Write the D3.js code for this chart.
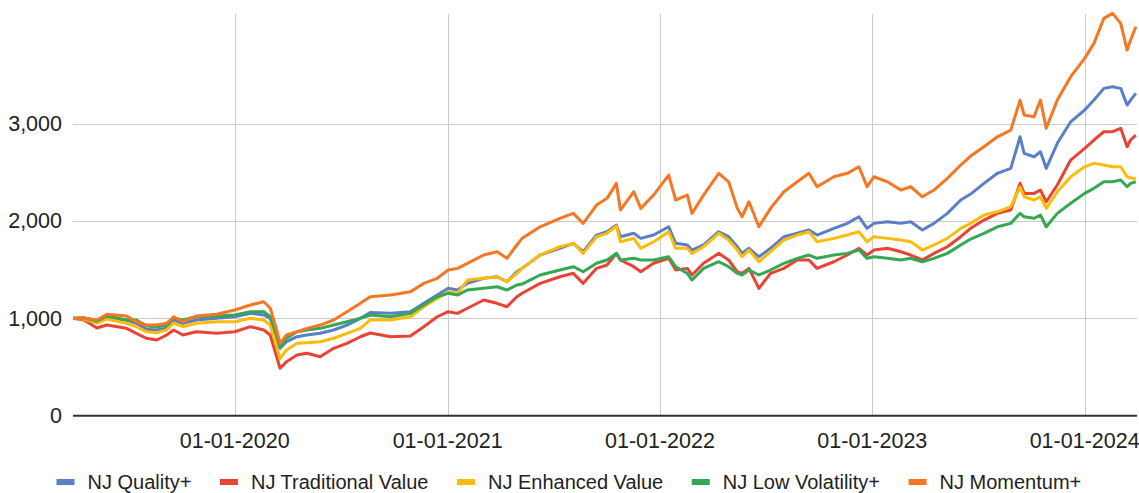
<!DOCTYPE html>
<html>
<head>
<meta charset="utf-8">
<script src="https://cdn.jsdelivr.net/npm/d3@7"></script>
<style>
  body { margin: 0; background: #fff; }
  svg { display: block; font-family: 'Liberation Sans', Arial, sans-serif; }
</style>
</head>
<body>
<svg id="chart" width="1139" height="493"></svg>
<script>
/* global d3 */

// dates of the read-off points (values re-based to 1000)
var dates = [
  '2019-03-29', '2019-04-17', '2019-05-09', '2019-05-26', '2019-06-29', '2019-07-16', '2019-08-02', '2019-08-20',
  '2019-09-06', '2019-09-18', '2019-10-04', '2019-10-27', '2019-12-01', '2020-01-01', '2020-01-28', '2020-02-20',
  '2020-03-02', '2020-03-13', '2020-03-19', '2020-03-30', '2020-04-17', '2020-05-04', '2020-05-27', '2020-06-19',
  '2020-07-12', '2020-08-04', '2020-08-21', '2020-09-25', '2020-10-29', '2020-11-21', '2020-12-14', '2021-01-02',
  '2021-01-18', '2021-02-04', '2021-03-04', '2021-03-27', '2021-04-13', '2021-04-30', '2021-05-09', '2021-06-09',
  '2021-07-13', '2021-08-05', '2021-08-22', '2021-09-14', '2021-10-02', '2021-10-18', '2021-10-25', '2021-11-17',
  '2021-11-29', '2021-12-21', '2022-01-16', '2022-01-28', '2022-02-17', '2022-02-25', '2022-03-17', '2022-04-12',
  '2022-04-29', '2022-05-14', '2022-05-22', '2022-06-03', '2022-06-20', '2022-07-10', '2022-08-02', '2022-08-25',
  '2022-09-14', '2022-09-28', '2022-10-27', '2022-11-19', '2022-12-09', '2022-12-23', '2023-01-04', '2023-01-27',
  '2023-02-19', '2023-03-08', '2023-03-28', '2023-04-17', '2023-05-10', '2023-06-02', '2023-06-19', '2023-07-12',
  '2023-08-04', '2023-08-27', '2023-09-12', '2023-09-19', '2023-10-06', '2023-10-17', '2023-10-27', '2023-11-15',
  '2023-12-08', '2024-01-01', '2024-01-17', '2024-02-03', '2024-02-18', '2024-03-03', '2024-03-14', '2024-03-20',
  '2024-03-29'
]

var quality = [
  1000, 1003, 962, 1003, 983, 949, 887, 880, 897, 983, 949, 983, 1000, 1016, 1051, 1034,
  1000, 811, 692, 760, 811, 829, 846, 880, 931, 1000, 1060, 1051, 1068, 1154, 1239, 1308,
  1291, 1359, 1411, 1427, 1376, 1478, 1513, 1650, 1719, 1770, 1684, 1855, 1889, 1958, 1838, 1873,
  1821, 1855, 1940, 1770, 1753, 1701, 1753, 1889, 1838, 1735, 1667, 1719, 1632, 1719, 1838, 1873,
  1907, 1855, 1924, 1975, 2043, 1924, 1975, 1992, 1975, 1992, 1907, 1975, 2078, 2215, 2276, 2386,
  2489, 2540, 2864, 2694, 2659, 2710, 2540, 2797, 3018, 3139, 3241, 3361, 3378, 3361, 3190, 3241,
  3310
]

var tradValue = [
  1000, 983, 900, 931, 897, 846, 795, 777, 829, 880, 829, 862, 846, 862, 914, 880,
  829, 606, 487, 554, 623, 641, 606, 692, 743, 811, 849, 811, 818, 914, 1016, 1068,
  1051, 1103, 1188, 1154, 1119, 1222, 1257, 1359, 1427, 1462, 1359, 1513, 1547, 1667, 1599, 1530,
  1478, 1565, 1616, 1496, 1513, 1445, 1565, 1667, 1599, 1478, 1462, 1513, 1308, 1462, 1513, 1599,
  1599, 1513, 1581, 1650, 1719, 1650, 1701, 1719, 1684, 1650, 1599, 1667, 1735, 1838, 1924, 2009,
  2078, 2112, 2386, 2283, 2283, 2317, 2197, 2369, 2625, 2745, 2831, 2916, 2916, 2951, 2762, 2831,
  2882
]

var enhValue = [
  1000, 993, 952, 993, 949, 914, 862, 852, 880, 952, 914, 949, 965, 965, 1000, 983,
  931, 708, 589, 675, 743, 749, 760, 795, 846, 897, 983, 983, 1016, 1119, 1205, 1273,
  1257, 1393, 1411, 1427, 1376, 1462, 1513, 1650, 1735, 1770, 1667, 1838, 1873, 1948, 1786, 1821,
  1719, 1786, 1889, 1719, 1719, 1667, 1735, 1873, 1804, 1701, 1632, 1701, 1581, 1684, 1804, 1855,
  1889, 1786, 1821, 1855, 1889, 1786, 1838, 1821, 1804, 1786, 1701, 1753, 1821, 1924, 1975, 2061,
  2094, 2146, 2351, 2248, 2215, 2248, 2129, 2300, 2454, 2556, 2591, 2574, 2556, 2556, 2454, 2440,
  2437
]

var lowVol = [
  1000, 1003, 972, 1024, 983, 983, 921, 911, 931, 1003, 983, 1016, 1024, 1034, 1068, 1068,
  1016, 829, 708, 795, 862, 880, 897, 931, 965, 1000, 1034, 1016, 1051, 1137, 1222, 1257,
  1239, 1291, 1308, 1324, 1291, 1342, 1352, 1445, 1496, 1530, 1478, 1565, 1599, 1667, 1599, 1616,
  1599, 1599, 1632, 1530, 1462, 1393, 1513, 1581, 1530, 1462, 1445, 1496, 1445, 1496, 1565, 1616,
  1650, 1616, 1650, 1667, 1701, 1616, 1632, 1616, 1599, 1616, 1581, 1616, 1667, 1753, 1814, 1873,
  1940, 1975, 2078, 2043, 2027, 2061, 1940, 2078, 2181, 2283, 2335, 2402, 2402, 2420, 2351, 2386,
  2402
]

var momentum = [
  1000, 1003, 983, 1041, 1024, 965, 931, 931, 949, 1016, 965, 1024, 1041, 1085, 1137, 1170,
  1106, 880, 743, 829, 862, 897, 931, 983, 1068, 1154, 1222, 1239, 1273, 1359, 1411, 1496,
  1513, 1565, 1650, 1684, 1616, 1753, 1821, 1940, 2027, 2078, 1975, 2163, 2232, 2386, 2112, 2300,
  2129, 2266, 2471, 2215, 2266, 2078, 2266, 2489, 2402, 2129, 2043, 2197, 1940, 2129, 2300, 2402,
  2489, 2351, 2454, 2489, 2556, 2351, 2454, 2402, 2317, 2351, 2248, 2317, 2437, 2574, 2666, 2762,
  2864, 2933, 3241, 3087, 3070, 3241, 2951, 3241, 3481, 3669, 3823, 4080, 4131, 4029, 3755, 3857,
  3994
]

var seriesNames = ['NJ Quality+', 'NJ Traditional Value', 'NJ Enhanced Value', 'NJ Low Volatility+', 'NJ Momentum+']
var seriesValues = [quality, tradValue, enhValue, lowVol, momentum]
var colors = ['#5a7fc7', '#e94335', '#fbbc09', '#34a853', '#f57723']
var yTicks = [0, 1000, 2000, 3000]
var xTicks = ['2020-01-01', '2021-01-01', '2022-01-01', '2023-01-01', '2024-01-01']

;(function () {
  var svg = d3.select('#chart')
  var parse = d3.timeParse('%Y-%m-%d')
  var left = 73
  var right = 1137
  var top = 14
  var bottom = 415.7

  var mapX = d3.scaleTime()
      .domain([parse('2019-03-29'), parse('2024-03-31')])
      .range([left, right])

  var mapY = d3.scaleLinear()
      .domain([0, 4125])
      .range([bottom, top])

  var series = seriesNames.map((name, i) => ({
    name: name,
    color: colors[i],
    points: dates.map((d, j) => ({date: parse(d), value: seriesValues[i][j]}))
  }))

  /*
      --------------------------------------
      Grid
  */
  var grid = svg.append('g').attr('class', 'grid')

  grid.selectAll('line.h')
      .data(yTicks.filter(d => d > 0))
      .enter().append('line')
      .attr('class', 'h')
      .attr('x1', left).attr('x2', right)
      .attr('y1', d => Math.round(mapY(d)) + 0.5)
      .attr('y2', d => Math.round(mapY(d)) + 0.5)
      .style('stroke', '#cccccc')

  grid.selectAll('line.v')
      .data(xTicks.map(parse))
      .enter().append('line')
      .attr('class', 'v')
      .attr('x1', d => Math.round(mapX(d)) + 0.5)
      .attr('x2', d => Math.round(mapX(d)) + 0.5)
      .attr('y1', top).attr('y2', bottom)
      .style('stroke', '#cccccc')

  // y labels
  svg.append('g').selectAll('text')
      .data(yTicks)
      .enter().append('text')
      .attr('x', 62)
      .attr('y', d => mapY(d))
      .attr('dy', '0.35em')
      .attr('text-anchor', 'end')
      .style('font-size', '21.5px')
      .style('fill', '#222')
      .text(d3.format(','))

  // x labels
  svg.append('g').selectAll('text')
      .data(xTicks.map(parse))
      .enter().append('text')
      .attr('x', d => mapX(d))
      .attr('y', 440)
      .attr('dy', '0.35em')
      .attr('text-anchor', 'middle')
      .style('font-size', '21.5px')
      .style('fill', '#222')
      .text(d3.timeFormat('%d-%m-%Y'))

  /*
      --------------------------------------
      Lines
  */
  var line = d3.line()
      .x(d => mapX(d.date))
      .y(d => mapY(d.value))

  svg.append('g').attr('class', 'lines')
      .selectAll('path')
      .data(series)
      .enter().append('path')
      .attr('d', d => line(d.points))
      .style('fill', 'none')
      .style('stroke', d => d.color)
      .style('stroke-width', 3)
      .style('stroke-linejoin', 'round')

  // baseline
  svg.append('line')
      .attr('x1', left).attr('x2', right)
      .attr('y1', bottom).attr('y2', bottom)
      .style('stroke', '#333')
      .style('stroke-width', 2)

  /*
      --------------------------------------
      Legend
  */
  var legend = svg.append('g').attr('class', 'legend')
  var lx = 56.5
  var ly = 482
  series.forEach(s => {
    legend.append('rect')
        .attr('x', lx).attr('y', ly - 3)
        .attr('width', 18).attr('height', 6)
        .style('fill', s.color)
    var t = legend.append('text')
        .attr('x', lx + 31)
        .attr('y', ly)
        .attr('dy', '0.35em')
        .style('font-size', '20px')
        .style('fill', '#222')
        .text(s.name)
    lx += 31 + t.node().getComputedTextLength() + 28.5
  })
})()
</script>
</body>
</html>
